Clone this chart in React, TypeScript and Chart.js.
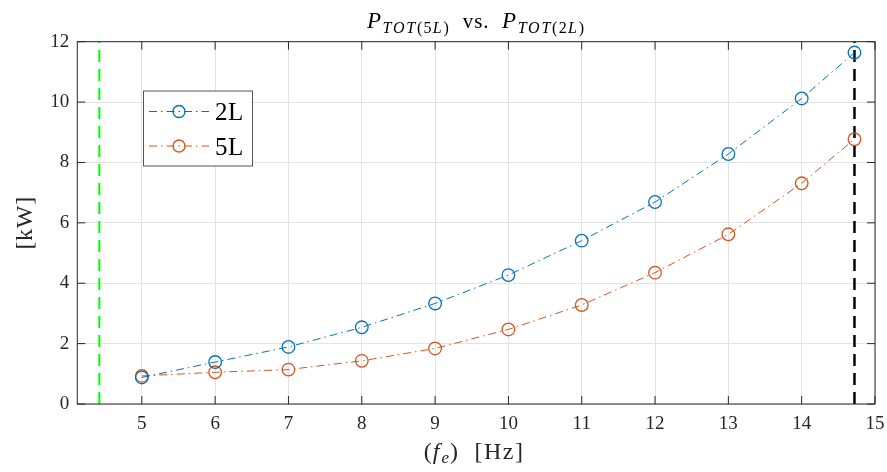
import React, { useEffect, useRef } from "react";
import { Chart, registerables } from "chart.js";

Chart.register(...registerables);

// ---- data ----
const freqHz = [5, 6, 7, 8, 9, 10, 11, 12, 13, 14, 14.72];
const power2L = [0.88, 1.39, 1.89, 2.54, 3.33, 4.27, 5.41, 6.69, 8.28, 10.12, 11.64];
const power5L = [0.93, 1.05, 1.14, 1.43, 1.84, 2.47, 3.28, 4.35, 5.62, 7.31, 8.77];
const xTicks = [5, 6, 7, 8, 9, 10, 11, 12, 13, 14, 15];
const yTicks = [0, 2, 4, 6, 8, 10, 12];
const greenLineX = 4.42;
const blackLineX = 14.72;
const seriesLabels = ["2L", "5L"];

const FONT = "'Liberation Serif', 'DejaVu Serif', serif";
const AX = "#262626";
const BLUE = "#0072BD";
const ORANGE = "#D95319";

type Seg = { t: string; it?: boolean; size: number; dy?: number; ls?: number };

function setFont(ctx: any, s: Seg) {
  ctx.font = `${s.it ? "italic " : ""}${s.size}px ${FONT}`;
  ctx.letterSpacing = `${s.ls || 0}px`;
}

function drawRich(ctx: CanvasRenderingContext2D, segs: Seg[], cx: number, y: number) {
  let total = 0;
  const widths: number[] = [];
  for (const s of segs) {
    setFont(ctx, s);
    const w = ctx.measureText(s.t).width;
    widths.push(w);
    total += w;
  }
  let x = cx - total / 2;
  ctx.textAlign = "left";
  ctx.textBaseline = "alphabetic";
  segs.forEach((s, i) => {
    setFont(ctx, s);
    ctx.fillText(s.t, x, y + (s.dy || 0));
    x += widths[i];
  });
  (ctx as any).letterSpacing = "0px";
}

const decor = {
  id: "matlabDecor",
  afterDatasetsDraw(chart: any) {
    const ctx: CanvasRenderingContext2D = chart.ctx;
    const { left, right, top, bottom } = chart.chartArea;
    const xs = chart.scales.x;
    const ys = chart.scales.y;
    ctx.save();
    // box
    ctx.strokeStyle = AX;
    ctx.lineWidth = 1;
    ctx.setLineDash([]);
    ctx.strokeRect(left, top, right - left, bottom - top);
    // inward ticks
    const tl = 8;
    ctx.beginPath();
    for (const v of xTicks) {
      const px = xs.getPixelForValue(v);
      ctx.moveTo(px, bottom);
      ctx.lineTo(px, bottom - tl);
      ctx.moveTo(px, top);
      ctx.lineTo(px, top + tl);
    }
    for (const v of yTicks) {
      const py = ys.getPixelForValue(v);
      ctx.moveTo(left, py);
      ctx.lineTo(left + tl, py);
      ctx.moveTo(right, py);
      ctx.lineTo(right - tl, py);
    }
    ctx.stroke();

    // title
    ctx.fillStyle = "#000";
    const cx = (left + right) / 2;
    const sub = { it: true, size: 16, dy: 5, ls: 1.8 };
    const subU = { size: 16, dy: 5, ls: 1.3 };
    drawRich(
      ctx,
      [
        { t: "P", it: true, size: 23, ls: 1.5 },
        { t: "TOT", ...sub },
        { t: "(5", ...subU },
        { t: "L", ...sub },
        { t: ")", ...subU },
        { t: "  vs.  ", size: 21, ls: 1 },
        { t: "P", it: true, size: 23, ls: 1.5 },
        { t: "TOT", ...sub },
        { t: "(2", ...subU },
        { t: "L", ...sub },
        { t: ")", ...subU },
      ],
      cx,
      28
    );
    // x label
    ctx.fillStyle = AX;
    drawRich(
      ctx,
      [
        { t: "(", size: 24, ls: 1 },
        { t: "f", it: true, size: 24, ls: 2 },
        { t: "e", it: true, size: 17, dy: 4, ls: 1 },
        { t: ")  [Hz]", size: 24, ls: 1.5 },
      ],
      cx - 2,
      459
    );
    // y label
    ctx.save();
    ctx.translate(32, (top + bottom) / 2);
    ctx.rotate(-Math.PI / 2);
    drawRich(ctx, [{ t: "[kW]", size: 24, ls: 0.7 }], 0, 0);
    ctx.restore();

    // legend
    const lx = 143.5, ly = 91, lw = 109, lh = 75;
    ctx.fillStyle = "#fff";
    ctx.fillRect(lx, ly, lw, lh);
    ctx.strokeStyle = "#555";
    ctx.lineWidth = 1;
    ctx.strokeRect(lx, ly, lw, lh);
    const rows = [
      { label: seriesLabels[0], color: BLUE, y: 111.5 },
      { label: seriesLabels[1], color: ORANGE, y: 146 },
    ];
    for (const r of rows) {
      ctx.strokeStyle = r.color;
      ctx.lineWidth = 1;
      ctx.setLineDash([8, 4, 1.5, 4]);
      ctx.beginPath();
      ctx.moveTo(149, r.y);
      ctx.lineTo(209, r.y);
      ctx.stroke();
      ctx.setLineDash([]);
      ctx.lineWidth = 1.3;
      ctx.beginPath();
      ctx.arc(179, r.y, 6, 0, Math.PI * 2);
      ctx.stroke();
      ctx.fillStyle = "#000";
      ctx.font = `25px ${FONT}`;
      (ctx as any).letterSpacing = "0.5px";
      ctx.textAlign = "left";
      ctx.textBaseline = "alphabetic";
      ctx.fillText(r.label, 215, r.y + 8.5);
      (ctx as any).letterSpacing = "0px";
    }
    ctx.restore();
  },
};

export default function App() {
  const ref = useRef<HTMLCanvasElement | null>(null);
  useEffect(() => {
    document.body.style.margin = "0";
    const canvas = ref.current!;
    const mk = (ys: number[]) => freqHz.map((x, i) => ({ x, y: ys[i] }));
    const chart = new Chart(canvas, {
      type: "line",
      data: {
        datasets: [
          {
            label: seriesLabels[0],
            data: mk(power2L),
            borderColor: BLUE,
            backgroundColor: "transparent",
            borderWidth: 1,
            borderDash: [8, 4, 1.5, 4],
            pointRadius: 6.3,
            pointBorderWidth: 1.3,
            pointBorderColor: BLUE,
            pointBackgroundColor: "transparent",
            tension: 0,
          },
          {
            label: seriesLabels[1],
            data: mk(power5L),
            borderColor: ORANGE,
            backgroundColor: "transparent",
            borderWidth: 1,
            borderDash: [8, 4, 1.5, 4],
            pointRadius: 6.3,
            pointBorderWidth: 1.3,
            pointBorderColor: ORANGE,
            pointBackgroundColor: "transparent",
            tension: 0,
          },
          {
            label: "green",
            data: [
              { x: greenLineX, y: yTicks[0] },
              { x: greenLineX, y: yTicks[yTicks.length - 1] },
            ],
            borderColor: "#00ff00",
            borderWidth: 2,
            borderDash: [12, 7],
            pointRadius: 0,
          },
          {
            label: "black",
            data: [
              { x: blackLineX, y: yTicks[0] },
              { x: blackLineX, y: yTicks[yTicks.length - 1] },
            ],
            borderColor: "#000",
            borderWidth: 2.5,
            borderDash: [12, 7],
            pointRadius: 0,
          },
        ],
      },
      options: {
        responsive: false,
        animation: false,
        layout: { padding: { left: 0, top: 41.7, right: 12, bottom: 0 } },
        plugins: { legend: { display: false }, title: { display: false }, tooltip: { enabled: false } },
        scales: {
          x: {
            type: "linear",
            min: 4.12,
            max: 15,
            afterBuildTicks: (s: any) => {
              s.ticks = xTicks.map((v) => ({ value: v }));
            },
            afterFit: (s: any) => {
              s.height = 68;
              s.paddingRight = 0;
              s.paddingLeft = 0;
            },
            grid: { color: "#e3e3e3", drawTicks: false, lineWidth: 1 },
            border: { display: false },
            ticks: {
              padding: 9,
              color: AX,
              font: { family: FONT, size: 19 },
              maxRotation: 0,
              autoSkip: false,
            },
          },
          y: {
            type: "linear",
            min: 0,
            max: 12,
            afterBuildTicks: (s: any) => {
              s.ticks = yTicks.map((v) => ({ value: v }));
            },
            afterFit: (s: any) => {
              s.width = 77.3;
              s.paddingTop = 0;
              s.paddingBottom = 0;
            },
            grid: { color: "#e3e3e3", drawTicks: false, lineWidth: 1 },
            border: { display: false },
            ticks: {
              padding: 8,
              color: AX,
              font: { family: FONT, size: 19 },
            },
          },
        },
      },
      plugins: [decor],
    } as any);
    return () => chart.destroy();
  }, []);
  return <canvas ref={ref} width={887} height={472} style={{ display: "block" }} />;
}
